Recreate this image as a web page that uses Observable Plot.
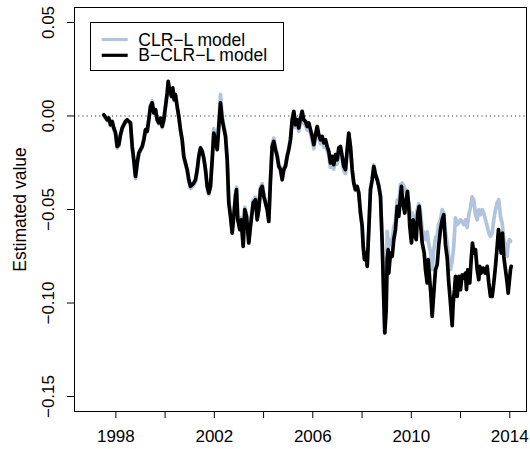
<!DOCTYPE html>
<html><head><meta charset="utf-8">
<script src="https://cdn.jsdelivr.net/npm/d3@7"></script>
<script src="https://cdn.jsdelivr.net/npm/@observablehq/plot@0.6"></script>
<style>body{margin:0;background:#fff;}#chart svg{display:block;}</style>
</head><body><div id="chart"></div>
<script>
const seriesNames = ["CLR\u2212L model", "B\u2212CLR\u2212L model"];
const seriesColors = ["#b0c4de", "#000000"];
const xTicks = [1998, 2000, 2002, 2004, 2006, 2008, 2010, 2012, 2014];
const xTickLabels = ["1998", "", "2002", "", "2006", "", "2010", "", "2014"];
const yTicks = [-0.15, -0.10, -0.05, 0.00, 0.05];
const yTickLabels = ["\u22120.15", "\u22120.10", "\u22120.05", "0.00", "0.05"];
const yLabel = "Estimated value";

// B-CLR-L model (black): [year, value]
const bclrl = [
[1997.510,0.0007],[1997.648,-0.0020],[1997.713,-0.0011],[1997.782,-0.0047],[1997.851,-0.0029],[1997.916,-0.0064],
[1997.985,-0.0089],[1998.054,-0.0163],[1998.119,-0.0153],[1998.188,-0.0100],[1998.257,-0.0064],[1998.391,-0.0029],
[1998.461,-0.0020],[1998.526,-0.0029],[1998.595,-0.0037],[1998.664,-0.0163],[1998.729,-0.0234],[1998.769,-0.0287],
[1998.798,-0.0323],[1998.867,-0.0251],[1998.932,-0.0198],[1999.001,-0.0180],[1999.070,-0.0163],[1999.135,-0.0127],
[1999.204,-0.0073],[1999.273,-0.0082],[1999.338,-0.0020],[1999.407,0.0051],[1999.476,0.0070],[1999.541,0.0016],
[1999.610,0.0034],[1999.679,-0.0020],[1999.744,-0.0037],[1999.813,-0.0011],[1999.882,-0.0056],[1999.947,-0.0020],
[2000.016,0.0051],[2000.085,0.0123],[2000.126,0.0185],[2000.179,0.0141],[2000.260,0.0105],[2000.313,0.0150],
[2000.370,0.0087],[2000.422,0.0114],[2000.491,0.0051],[2000.556,-0.0002],[2000.625,-0.0073],[2000.694,-0.0127],
[2000.759,-0.0216],[2000.828,-0.0251],[2000.898,-0.0287],[2000.963,-0.0341],[2001.032,-0.0376],[2001.101,-0.0367],
[2001.166,-0.0358],[2001.235,-0.0341],[2001.304,-0.0287],[2001.369,-0.0216],[2001.438,-0.0171],[2001.507,-0.0189],
[2001.572,-0.0225],[2001.641,-0.0287],[2001.710,-0.0376],[2001.775,-0.0412],[2001.844,-0.0376],[2001.913,-0.0234],
[2001.978,-0.0091],[2002.047,-0.0136],[2002.116,-0.0180],[2002.181,-0.0056],[2002.250,0.0070],[2002.319,-0.0020],
[2002.384,-0.0064],[2002.453,-0.0109],[2002.522,-0.0234],[2002.587,-0.0465],[2002.656,-0.0537],[2002.725,-0.0626],
[2002.790,-0.0537],[2002.859,-0.0430],[2002.900,-0.0394],[2002.953,-0.0555],[2003.034,-0.0608],[2003.091,-0.0555],
[2003.172,-0.0697],[2003.237,-0.0501],[2003.306,-0.0537],[2003.400,-0.0679],[2003.469,-0.0590],[2003.578,-0.0465],
[2003.672,-0.0448],[2003.741,-0.0555],[2003.806,-0.0501],[2003.875,-0.0394],[2003.944,-0.0376],[2004.009,-0.0430],
[2004.078,-0.0465],[2004.147,-0.0501],[2004.212,-0.0564],[2004.281,-0.0341],[2004.350,-0.0163],[2004.415,-0.0136],
[2004.484,-0.0180],[2004.553,-0.0216],[2004.618,-0.0270],[2004.687,-0.0287],[2004.756,-0.0341],[2004.821,-0.0287],
[2004.890,-0.0270],[2004.959,-0.0216],[2005.024,-0.0180],[2005.093,-0.0127],[2005.162,-0.0020],[2005.227,0.0025],
[2005.296,-0.0047],[2005.365,-0.0020],[2005.430,-0.0064],[2005.499,-0.0011],[2005.568,0.0025],[2005.633,-0.0020],
[2005.703,-0.0029],[2005.772,-0.0056],[2005.837,-0.0037],[2005.906,-0.0073],[2005.975,-0.0109],[2006.040,-0.0153],
[2006.109,-0.0100],[2006.178,-0.0056],[2006.243,-0.0100],[2006.312,-0.0127],[2006.381,-0.0109],[2006.446,-0.0144],
[2006.515,-0.0127],[2006.584,-0.0163],[2006.649,-0.0189],[2006.718,-0.0251],[2006.787,-0.0216],[2006.852,-0.0260],
[2006.921,-0.0207],[2006.990,-0.0234],[2007.055,-0.0171],[2007.124,-0.0163],[2007.193,-0.0216],[2007.258,-0.0270],
[2007.327,-0.0287],[2007.396,-0.0180],[2007.461,-0.0091],[2007.530,-0.0163],[2007.599,-0.0287],[2007.664,-0.0358],
[2007.733,-0.0394],[2007.802,-0.0376],[2007.867,-0.0412],[2007.936,-0.0519],[2008.005,-0.0590],[2008.046,-0.0697],
[2008.099,-0.0768],[2008.152,-0.0733],[2008.209,-0.0804],[2008.274,-0.0608],[2008.343,-0.0394],[2008.412,-0.0341],
[2008.477,-0.0270],[2008.546,-0.0314],[2008.615,-0.0341],[2008.680,-0.0376],[2008.749,-0.0430],[2008.818,-0.0679],
[2008.883,-0.0982],[2008.924,-0.1160],[2008.980,-0.1036],[2009.021,-0.0768],[2009.062,-0.0715],[2009.086,-0.0840],
[2009.155,-0.0733],[2009.224,-0.0751],[2009.289,-0.0661],[2009.358,-0.0608],[2009.427,-0.0483],[2009.492,-0.0537],
[2009.561,-0.0430],[2009.602,-0.0376],[2009.655,-0.0465],[2009.736,-0.0519],[2009.793,-0.0448],[2009.846,-0.0403],
[2009.898,-0.0483],[2009.939,-0.0590],[2010.008,-0.0679],[2010.077,-0.0555],[2010.142,-0.0626],[2010.199,-0.0661],
[2010.264,-0.0519],[2010.321,-0.0483],[2010.386,-0.0590],[2010.443,-0.0679],[2010.524,-0.0733],[2010.577,-0.0822],
[2010.646,-0.0893],[2010.686,-0.0768],[2010.739,-0.0858],[2010.792,-0.0947],[2010.849,-0.1072],[2010.914,-0.0947],
[2010.983,-0.0822],[2011.052,-0.0795],[2011.117,-0.0688],[2011.186,-0.0608],[2011.255,-0.0555],[2011.320,-0.0528],
[2011.389,-0.0688],[2011.458,-0.0758],[2011.523,-0.0893],[2011.592,-0.1000],[2011.661,-0.1121],[2011.702,-0.1000],
[2011.755,-0.0929],[2011.795,-0.0858],[2011.864,-0.0965],[2011.929,-0.0858],[2011.998,-0.0929],[2012.067,-0.0849],
[2012.132,-0.0866],[2012.201,-0.0840],[2012.242,-0.0929],[2012.295,-0.0822],[2012.376,-0.0893],[2012.433,-0.0768],
[2012.486,-0.0679],[2012.538,-0.0733],[2012.608,-0.0715],[2012.677,-0.0822],[2012.742,-0.0875],[2012.782,-0.0804],
[2012.839,-0.0840],[2012.920,-0.0813],[2013.001,-0.0840],[2013.083,-0.0804],[2013.148,-0.0893],[2013.217,-0.0965],
[2013.286,-0.0965],[2013.351,-0.0893],[2013.420,-0.0804],[2013.489,-0.0697],[2013.542,-0.0608],[2013.595,-0.0679],
[2013.652,-0.0733],[2013.704,-0.0626],[2013.757,-0.0751],[2013.826,-0.0822],[2013.895,-0.0893],[2013.936,-0.0947],
[2013.989,-0.0875],[2014.029,-0.0822],[2014.058,-0.0804]
];

// CLR-L model (light blue): [year, value]
const clrl = [
[1997.510,0.0003],[1997.648,-0.0026],[1997.713,-0.0017],[1997.782,-0.0053],[1997.851,-0.0035],[1997.916,-0.0070],
[1997.985,-0.0097],[1998.054,-0.0172],[1998.119,-0.0161],[1998.188,-0.0106],[1998.257,-0.0070],[1998.391,-0.0035],
[1998.461,-0.0026],[1998.526,-0.0035],[1998.595,-0.0043],[1998.664,-0.0171],[1998.729,-0.0244],[1998.769,-0.0298],
[1998.798,-0.0335],[1998.867,-0.0262],[1998.932,-0.0206],[1999.001,-0.0187],[1999.070,-0.0169],[1999.135,-0.0133],
[1999.204,-0.0077],[1999.273,-0.0086],[1999.338,-0.0020],[1999.407,0.0058],[1999.476,0.0080],[1999.541,0.0018],
[1999.610,0.0034],[1999.679,-0.0025],[1999.744,-0.0043],[1999.813,-0.0016],[1999.882,-0.0062],[1999.947,-0.0024],
[2000.016,0.0048],[2000.085,0.0120],[2000.126,0.0182],[2000.179,0.0136],[2000.260,0.0100],[2000.313,0.0146],
[2000.370,0.0082],[2000.422,0.0110],[2000.491,0.0045],[2000.556,-0.0008],[2000.625,-0.0080],[2000.694,-0.0134],
[2000.759,-0.0224],[2000.828,-0.0260],[2000.898,-0.0297],[2000.963,-0.0352],[2001.032,-0.0388],[2001.101,-0.0379],
[2001.166,-0.0369],[2001.235,-0.0350],[2001.304,-0.0294],[2001.369,-0.0220],[2001.438,-0.0168],[2001.507,-0.0186],
[2001.572,-0.0226],[2001.641,-0.0292],[2001.710,-0.0384],[2001.775,-0.0420],[2001.844,-0.0380],[2001.913,-0.0225],
[2001.978,-0.0068],[2002.047,-0.0122],[2002.116,-0.0170],[2002.181,-0.0035],[2002.250,0.0115],[2002.319,0.0005],
[2002.384,-0.0050],[2002.453,-0.0098],[2002.522,-0.0222],[2002.587,-0.0452],[2002.656,-0.0525],[2002.725,-0.0615],
[2002.790,-0.0524],[2002.859,-0.0416],[2002.900,-0.0380],[2002.953,-0.0543],[2003.034,-0.0596],[2003.091,-0.0542],
[2003.172,-0.0686],[2003.237,-0.0487],[2003.306,-0.0524],[2003.400,-0.0668],[2003.469,-0.0577],[2003.578,-0.0451],
[2003.672,-0.0434],[2003.741,-0.0543],[2003.806,-0.0488],[2003.875,-0.0380],[2003.944,-0.0362],[2004.009,-0.0418],
[2004.078,-0.0453],[2004.147,-0.0489],[2004.212,-0.0553],[2004.281,-0.0330],[2004.350,-0.0145],[2004.415,-0.0118],
[2004.484,-0.0166],[2004.553,-0.0204],[2004.618,-0.0259],[2004.687,-0.0276],[2004.756,-0.0331],[2004.821,-0.0276],
[2004.890,-0.0259],[2004.959,-0.0206],[2005.024,-0.0172],[2005.093,-0.0122],[2005.162,-0.0018],[2005.227,0.0022],
[2005.296,-0.0062],[2005.365,-0.0038],[2005.430,-0.0082],[2005.499,-0.0030],[2005.568,0.0008],[2005.633,-0.0040],
[2005.703,-0.0049],[2005.772,-0.0076],[2005.837,-0.0057],[2005.906,-0.0093],[2005.975,-0.0130],[2006.040,-0.0175],
[2006.109,-0.0121],[2006.178,-0.0076],[2006.243,-0.0121],[2006.312,-0.0148],[2006.381,-0.0130],[2006.446,-0.0166],
[2006.515,-0.0149],[2006.584,-0.0186],[2006.649,-0.0212],[2006.718,-0.0275],[2006.787,-0.0240],[2006.852,-0.0284],
[2006.921,-0.0231],[2006.990,-0.0258],[2007.055,-0.0194],[2007.124,-0.0186],[2007.193,-0.0239],[2007.258,-0.0292],
[2007.327,-0.0308],[2007.396,-0.0196],[2007.461,-0.0100],[2007.530,-0.0168],[2007.599,-0.0290],[2007.664,-0.0360],
[2007.733,-0.0396],[2007.802,-0.0376],[2007.867,-0.0410],[2007.936,-0.0515],[2008.005,-0.0585],[2008.046,-0.0692],
[2008.099,-0.0763],[2008.152,-0.0728],[2008.209,-0.0800],[2008.274,-0.0604],[2008.343,-0.0388],[2008.412,-0.0334],
[2008.477,-0.0262],[2008.546,-0.0306],[2008.615,-0.0335],[2008.680,-0.0370],[2008.749,-0.0423],[2008.818,-0.0672],
[2008.883,-0.0978],[2008.924,-0.1160],[2008.980,-0.1020],[2009.021,-0.0617],[2009.086,-0.0697],[2009.155,-0.0661],
[2009.224,-0.0661],[2009.289,-0.0590],[2009.358,-0.0565],[2009.427,-0.0448],[2009.492,-0.0474],[2009.561,-0.0367],
[2009.630,-0.0358],[2009.695,-0.0376],[2009.764,-0.0394],[2009.833,-0.0432],[2009.898,-0.0465],[2009.967,-0.0528],
[2010.036,-0.0519],[2010.101,-0.0544],[2010.170,-0.0581],[2010.239,-0.0501],[2010.304,-0.0469],[2010.373,-0.0506],
[2010.443,-0.0608],[2010.508,-0.0626],[2010.577,-0.0661],[2010.646,-0.0619],[2010.711,-0.0688],[2010.780,-0.0726],
[2010.849,-0.0822],[2010.914,-0.0715],[2010.983,-0.0651],[2011.052,-0.0635],[2011.117,-0.0576],[2011.186,-0.0555],
[2011.255,-0.0501],[2011.320,-0.0519],[2011.389,-0.0619],[2011.458,-0.0678],[2011.523,-0.0758],[2011.592,-0.0822],
[2011.661,-0.0779],[2011.726,-0.0694],[2011.795,-0.0544],[2011.864,-0.0581],[2011.929,-0.0571],[2011.998,-0.0555],
[2012.067,-0.0565],[2012.132,-0.0581],[2012.201,-0.0555],[2012.270,-0.0597],[2012.335,-0.0528],[2012.404,-0.0490],
[2012.473,-0.0432],[2012.538,-0.0448],[2012.608,-0.0528],[2012.677,-0.0555],[2012.742,-0.0501],[2012.811,-0.0528],
[2012.880,-0.0501],[2012.945,-0.0519],[2013.014,-0.0555],[2013.083,-0.0590],[2013.148,-0.0626],[2013.217,-0.0644],
[2013.286,-0.0626],[2013.351,-0.0555],[2013.420,-0.0501],[2013.489,-0.0465],[2013.554,-0.0448],[2013.623,-0.0537],
[2013.692,-0.0572],[2013.757,-0.0661],[2013.826,-0.0715],[2013.895,-0.0751],[2013.936,-0.0679],[2013.989,-0.0661],
[2014.029,-0.0671]
];

const toRows = (arr) => arr.map(([year, value]) => ({year, value}));
const clrlRows = toRows(clrl);
const bclrlRows = toRows(bclrl);

const fontFamily = "'Liberation Sans', Arial, Helvetica, sans-serif";
const xLabelMap = new Map(xTicks.map((t, i) => [t, xTickLabels[i]]));
const yLabelMap = new Map(yTicks.map((t, i) => [t, yTickLabels[i]]));
const lineWidth = 3.7;

const chart = Plot.plot({
  width: 530,
  height: 449,
  marginLeft: 74,
  marginRight: 4,
  marginTop: 7,
  marginBottom: 38,
  style: {fontFamily, fontSize: "17px", background: "white", color: "black"},
  x: {domain: [1996.32, 2014.68], label: null},
  y: {domain: [-0.158, 0.058], label: null},
  marks: [
    Plot.ruleY([0], {stroke: "#333", strokeWidth: 1, strokeDasharray: "1.2,3"}),
    Plot.line(clrlRows, {x: "year", y: "value", stroke: seriesColors[0], strokeWidth: lineWidth, strokeLinejoin: "round", strokeLinecap: "round"}),
    Plot.line(bclrlRows, {x: "year", y: "value", stroke: seriesColors[1], strokeWidth: lineWidth, strokeLinejoin: "round", strokeLinecap: "round"}),
    Plot.frame({stroke: "black", strokeWidth: 1}),
    Plot.axisX({ticks: xTicks, tickFormat: d => xLabelMap.get(d) ?? "", tickSize: 7, tickPadding: 11.6, fontSize: 17, stroke: "black", label: null}),
    Plot.axisY({ticks: yTicks, tickFormat: d => yLabelMap.get(d) ?? "", tickRotate: -90, tickSize: 7, tickPadding: 13.7, fontSize: 17, stroke: "black", label: null}),
    Plot.text([yLabel], {frameAnchor: "left", rotate: -90, dx: -49, lineAnchor: "bottom", textAnchor: "middle", fontSize: 17.5, fill: "black"})
  ]
});

// Legend (inside the plot, top-left)
const svg = d3.select(chart);
const lg = svg.append("g")
  .style("font-family", fontFamily).style("font-size", "17.5px").attr("text-anchor", "start");
lg.append("rect").attr("x", 90.5).attr("y", 22.5).attr("width", 193).attr("height", 48)
  .attr("fill", "white").attr("stroke", "black").attr("stroke-width", 1);
seriesNames.forEach((name, i) => {
  const cy = 39.5 + i * 15.8;
  lg.append("line").attr("x1", 101.7).attr("x2", 127.7).attr("y1", cy).attr("y2", cy)
    .attr("stroke", seriesColors[i]).attr("stroke-width", 3.2);
  lg.append("text").attr("x", 138.3).attr("y", cy + 6).attr("fill", "black")
    .style("text-anchor", "start").text(name);
});

document.getElementById("chart").appendChild(chart);
</script>
</body></html>
